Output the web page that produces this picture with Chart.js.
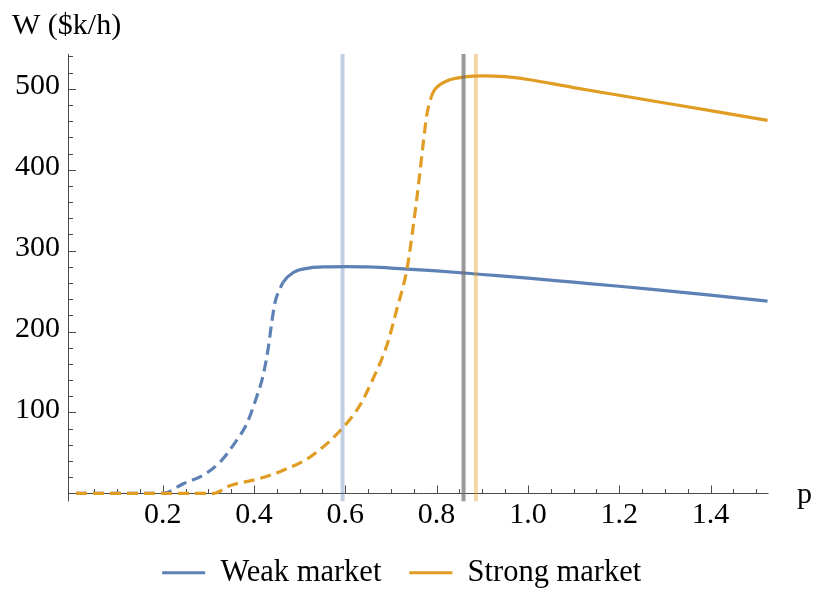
<!DOCTYPE html>
<html>
<head>
<meta charset="utf-8">
<script src="https://cdn.jsdelivr.net/npm/chart.js@4.4.1/dist/chart.umd.min.js"></script>
<style>
  html, body { margin: 0; padding: 0; background: #ffffff; }
  #wrap { width: 815px; height: 589px; }
</style>
</head>
<body>
<div id="wrap"><canvas id="chart" width="815" height="589"></canvas></div>
<script>
// Welfare W ($k/h) against price p for two market conditions
const seriesNames = ['Weak market', 'Strong market'];

const pWeak = [0.01, 0.10, 0.20, 0.245, 0.289, 0.326, 0.355, 0.384, 0.402, 0.420, 0.431, 0.439, 0.446, 0.457, 0.464, 0.486, 0.523, 0.560, 0.600, 0.650, 0.700, 0.800, 0.900, 1.000, 1.100, 1.200, 1.300, 1.400, 1.525];
const wWeak = [0, 0, 0, 12, 22.6, 39, 60, 86, 113, 146, 179, 212, 236, 253, 261, 273, 278.7, 280, 280.3, 280, 278.5, 275, 270.5, 266, 261, 256, 250.5, 245, 237.6];

const pStrong = [0.01, 0.15, 0.31, 0.347, 0.413, 0.464, 0.523, 0.596, 0.632, 0.661, 0.691, 0.713, 0.735, 0.749, 0.760, 0.771, 0.778, 0.789, 0.796, 0.822, 0.866, 0.900, 0.950, 1.000, 1.100, 1.200, 1.300, 1.400, 1.525];
const wStrong = [0, 0, 0, 9.5, 18.5, 28.7, 45, 82, 109, 142, 183, 228, 277, 331, 380, 434, 466, 491, 499, 509.6, 515, 516, 515, 511.5, 501.5, 492, 482.5, 473, 461];

// below these prices the curves are dashed
const weakSolidFrom = 0.464;
const strongSolidFrom = 0.789;

// reference prices marked with vertical lines
const markerWeak = 0.594;
const markerMid = 0.859;
const markerStrong = 0.886;

const xTickValues = [0.2, 0.4, 0.6, 0.8, 1.0, 1.2, 1.4];
const yTickValues = [100, 200, 300, 400, 500];

const X_MIN = -0.0075, X_AXIS_END = 1.527, X_MAX = 1.6035;
const Y_MIN = -10, Y_MAX = 543;

const BLUE = '#5E81B5';
const ORANGE = '#E19C24';
const FONT = '"Liberation Serif", "Times New Roman", serif';

Chart.defaults.color = '#000';
Chart.defaults.font.family = FONT;

const toPoints = (xs, ys) => xs.map((x, i) => ({ x: x, y: ys[i] }));
const vline = (x) => [{ x: x, y: Y_MIN }, { x: x, y: Y_MAX }];

// Axes crossing at the origin, with ticks pointing into the plot
const axesPlugin = {
  id: 'axesAtOrigin',
  beforeDatasetsDraw(chart) {
    const { ctx, chartArea } = chart;
    const xs = chart.scales.x, ys = chart.scales.y;
    const x0 = Math.round(chartArea.left) + 0.5;
    const y0 = Math.round(ys.getPixelForValue(0)) + 0.5;
    const xEnd = xs.getPixelForValue(X_AXIS_END);
    ctx.save();
    ctx.strokeStyle = '#4a4a4a';
    ctx.lineWidth = 1;
    ctx.beginPath();
    ctx.moveTo(x0, ys.getPixelForValue(Y_MAX));
    ctx.lineTo(x0, ys.getPixelForValue(Y_MIN));
    ctx.moveTo(x0, y0);
    ctx.lineTo(xEnd, y0);
    // x ticks every 0.05, majors every 0.2
    for (let k = 1; k <= 30; k++) {
      const px = Math.round(xs.getPixelForValue(k * 0.05)) + 0.5;
      const len = (k % 4 === 0) ? 8 : 4.5;
      ctx.moveTo(px, y0);
      ctx.lineTo(px, y0 - len);
    }
    // y ticks every 20, majors every 100
    for (let k = 1; k <= 27; k++) {
      const py = Math.round(ys.getPixelForValue(k * 20)) + 0.5;
      const len = (k % 5 === 0) ? 7.5 : 4.5;
      ctx.moveTo(x0, py);
      ctx.lineTo(x0 + len, py);
    }
    ctx.stroke();
    ctx.restore();
  },
  afterDraw(chart) {
    const { ctx } = chart;
    ctx.save();
    ctx.fillStyle = '#000';
    ctx.font = '30px ' + FONT;
    ctx.textBaseline = 'alphabetic';
    ctx.textAlign = 'left';
    ctx.fillText('W ($k/h)', 12, 33.5);
    ctx.fillText('p', 797, 503);
    ctx.restore();
  }
};

const dashFor = (limit) => (ctx) => (ctx.p1.parsed.x <= limit ? [11, 6] : undefined);

new Chart(document.getElementById('chart'), {
  type: 'line',
  data: {
    datasets: [
      {
        label: seriesNames[0],
        data: toPoints(pWeak, wWeak),
        borderColor: BLUE,
        backgroundColor: BLUE,
        borderWidth: 3.2,
        pointRadius: 0,
        cubicInterpolationMode: 'monotone',
        segment: { borderDash: dashFor(weakSolidFrom) },
        order: 2
      },
      {
        label: seriesNames[1],
        data: toPoints(pStrong, wStrong),
        borderColor: ORANGE,
        backgroundColor: ORANGE,
        borderWidth: 3.2,
        pointRadius: 0,
        cubicInterpolationMode: 'monotone',
        segment: { borderDash: dashFor(strongSolidFrom) },
        order: 1
      },
      {
        label: 'marker-weak',
        data: vline(markerWeak),
        borderColor: 'rgba(94,129,181,0.38)',
        borderWidth: 4,
        pointRadius: 0,
        order: 0
      },
      {
        label: 'marker-mid',
        data: vline(markerMid),
        borderColor: 'rgba(110,110,110,0.7)',
        borderWidth: 4,
        pointRadius: 0,
        order: 0
      },
      {
        label: 'marker-strong',
        data: vline(markerStrong),
        borderColor: 'rgba(225,156,36,0.4)',
        borderWidth: 4,
        pointRadius: 0,
        order: 0
      }
    ]
  },
  options: {
    responsive: false,
    devicePixelRatio: 1,
    animation: false,
    layout: { padding: { top: 54, left: 0, right: 11.6, bottom: -9 } },
    plugins: {
      tooltip: { enabled: false },
      legend: {
        position: 'bottom',
        labels: {
          boxWidth: 43,
          boxHeight: 3,
          padding: 28,
          font: { size: 30.5, family: FONT },
          color: '#000',
          filter: (item) => item.datasetIndex < 2,
          sort: (a, b) => a.datasetIndex - b.datasetIndex,
          generateLabels: (chart) =>
            Chart.defaults.plugins.legend.labels.generateLabels(chart)
              .map((l) => Object.assign(l, { lineWidth: 0, lineDash: [] }))
        }
      }
    },
    scales: {
      x: {
        type: 'linear',
        min: X_MIN,
        max: X_MAX,
        grid: { display: false, drawTicks: false },
        border: { display: false },
        ticks: {
          autoSkip: false,
          maxRotation: 0,
          padding: 0,
          font: { size: 30, family: FONT, lineHeight: 0.9 },
          color: '#000',
          callback: (v) => Number(v).toFixed(1)
        },
        afterBuildTicks: (s) => { s.ticks = xTickValues.map((v) => ({ value: v })); },
        afterFit: (s) => { s.height = 28; }
      },
      y: {
        type: 'linear',
        min: Y_MIN,
        max: Y_MAX,
        grid: { display: false, drawTicks: false },
        border: { display: false },
        ticks: {
          autoSkip: false,
          padding: 8,
          labelOffset: -2.5,
          font: { size: 30, family: FONT },
          color: '#000',
          callback: (v) => String(v)
        },
        afterBuildTicks: (s) => { s.ticks = yTickValues.map((v) => ({ value: v })); },
        afterFit: (s) => { s.width = 68; }
      }
    }
  },
  plugins: [axesPlugin]
});
</script>
</body>
</html>
